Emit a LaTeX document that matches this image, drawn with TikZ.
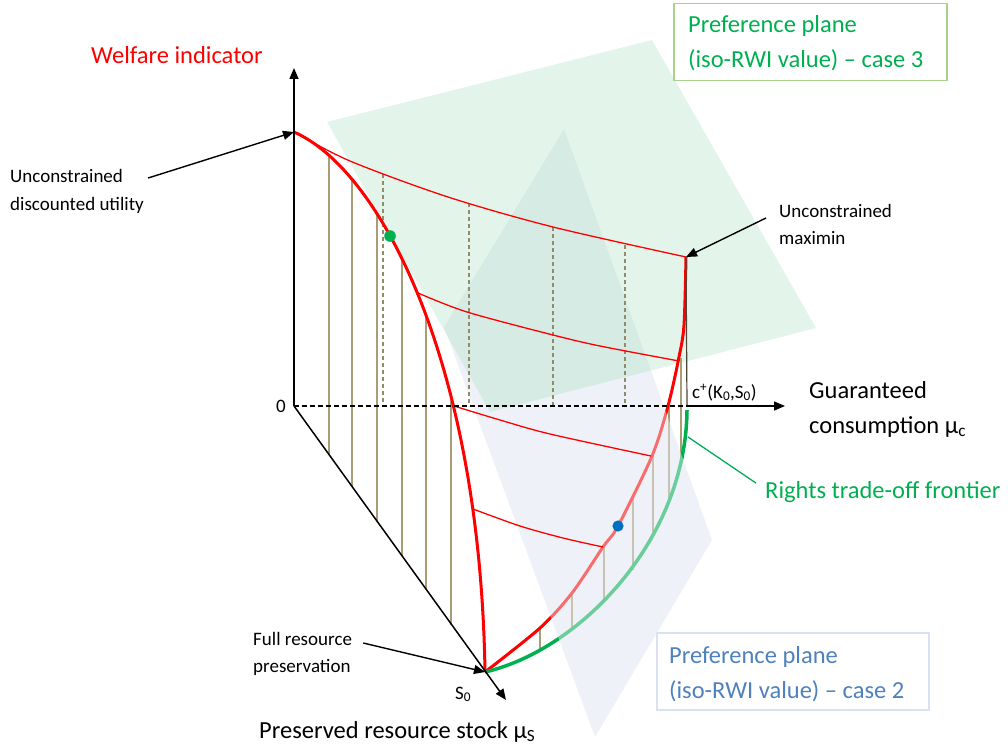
\documentclass[tikz,border=0pt]{standalone}
\usepackage{fontspec}
\setmainfont{Carlito}
\usetikzlibrary{arrows.meta}
\definecolor{wred}{HTML}{FF0000}
\definecolor{wgreen}{HTML}{00B050}
\definecolor{oliveA}{HTML}{A89E76}
\definecolor{oliveB}{HTML}{8E8C6A}
\definecolor{planeblue}{HTML}{EEF2F8}
\definecolor{planegreen}{HTML}{8FD7AB}
\definecolor{boxgreen}{HTML}{A9D18E}
\definecolor{boxblue}{HTML}{D9E2F1}
\definecolor{txtblue}{HTML}{4F81BD}
\definecolor{dotblue}{HTML}{0070C0}
\definecolor{darkline}{HTML}{4A4535}
\begin{document}
\begin{tikzpicture}[x=1pt,y=-1pt,
  big/.style={font=\fontsize{24.5}{29}\selectfont, inner sep=0pt, anchor=base west},
  small/.style={font=\fontsize{19}{23}\selectfont, inner sep=0pt, anchor=base west},
  tipline/.style={-{Triangle[length=11pt,width=9pt]}, line width=1.4pt, black},
  hatch/.style={oliveA, line width=1.3pt},
  dashhatch/.style={oliveB, line width=1.2pt, dash pattern=on 4pt off 3pt},
  thickred/.style={wred, line width=3pt},
  thinred/.style={wred, line width=1.3pt},
  frontier/.style={wgreen, line width=3.5pt},
  axis/.style={black, line width=1.5pt}]
\useasboundingbox (0,0) rectangle (1008,749);

% key points
\coordinate (O) at (294,406);
\coordinate (A) at (294,132);
\coordinate (M) at (686,257);
\coordinate (P) at (485,672);
\coordinate (C) at (687,406);
\coordinate (F) at (687,410);
\coordinate (Ytip) at (294,68);
\coordinate (Xtip) at (785,406);
\coordinate (Stip) at (506,700);

% preference planes
\fill[planeblue] (564,129) -- (712,540) -- (595,737) -- (444,327) -- cycle;
\fill[planegreen, opacity=0.25] (327,122) -- (652,40) -- (816,328) -- (490,412) -- cycle;

% right-side verticals (frontier up to surface)
\foreach \x/\a/\b in {540/628/649, 572/593/630, 604/547/603, 633/496/570, 653/455/537, 669/404/503, 681/358/463}
  \draw[hatch] (\x,\a) -- (\x,\b);

% right red curve and rights trade-off frontier
\draw[thickred] plot[smooth] coordinates {(686,257) (684,325) (679,357) (668,406) (652,456) (618,526) (603,547) (572,593) (540,628) (485,672)};
\draw[frontier] (F) .. controls (686,540) and (580,650) .. (P);

% case-2 plane in front of these curves
\begin{scope}
  \clip (564,129) -- (712,540) -- (595,737) -- (444,327) -- cycle;
  \clip (400,435.2) -- (820,327) -- (820,749) -- (400,749) -- cycle;
  \fill[planeblue, opacity=0.45] (400,300) rectangle (820,749);
\end{scope}

% left verticals (resource axis up to left curve)
\foreach \x/\a/\b in {329/157/455, 352/179/487, 377/215/522, 402/259/556, 426/317/590, 451/396/625}
  \draw[hatch] (\x,\a) -- (\x,\b);

% dashed verticals (consumption axis up to top curve)
\foreach \x/\a in {383/174, 469/203, 553/227, 625/245}
  \draw[dashhatch] (\x,\a) -- (\x,406);

% dark line at c+
\draw[darkline, line width=1.2pt] (M) -- (C);

% thin red iso-lines
\draw[thinred] plot[smooth] coordinates {(294,132) (350,161) (448,197) (553,227) (686,257)};
\draw[thinred] plot[smooth] coordinates {(418,293) (467,312) (553,335) (600,346) (679,361)};
\draw[thinred] plot[smooth] coordinates {(454,406) (500,420) (550,434) (651,456)};
\draw[thinred] plot[smooth] coordinates {(473,509) (520,526) (563,538) (603,547)};

% left thick red curve
\draw[thickred] (A) .. controls (380,170) and (480,360) .. (P);

% axes
\draw[axis, -{Triangle[length=11pt,width=9pt]}] (O) -- (Ytip);
\draw[axis, dash pattern=on 5pt off 3pt, line width=1.2pt] (O) -- (C);
\draw[axis, -{Triangle[length=11pt,width=9pt]}] (C) -- (Xtip);
\draw[axis, -{Triangle[length=11pt,width=9pt]}] (O) -- (Stip);

% dots
\fill[wgreen] (390,236) circle (5.8pt);
\fill[dotblue] (618,526) circle (5.6pt);

% labels
\node[big, text=wred] (wi) at (91,64) {Welfare indicator};
\node[small] (ucd1) at (10,182) {Unconstrained};
\node[small] (ucd2) at (10,210) {discounted utility};
\node[small] (um1) at (779,217) {Unconstrained};
\node[small] (um2) at (779,244) {maximin};
\node[small] (cplus) at (692,398) {c\textsuperscript{+}(K\textsubscript{0},S\textsubscript{0})};
\node[big] (gc1) at (809,398) {Guaranteed};
\node[big] (gc2) at (809,433) {consumption μ\textsubscript{c}};
\node[small] (zero) at (276,412) {0};
\node[big, text=wgreen] (rtf) at (765,498) {Rights trade-off frontier};
\node[small] (frp1) at (253,645) {Full resource};
\node[small] (frp2) at (253,672) {preservation};
\node[small] (s0) at (455,699) {S\textsubscript{0}};
\node[big] (prs) at (259,738) {Preserved resource stock μ\textsubscript{S}};

% label arrows
\draw[tipline] ([xshift=25pt,yshift=4pt]ucd1.base east) -- (A);
\draw[tipline] ([xshift=-13pt,yshift=-1pt]um1.base west) -- (M);
\draw[tipline] ([xshift=11pt,yshift=2pt]frp1.base east) -- (P);
\draw[wgreen, line width=1.3pt] (688,437) -- ([xshift=-9pt,yshift=8.5pt]rtf.west);

% preference plane boxes
\node[draw=boxgreen, fill=white, line width=1.5pt, minimum width=273pt, minimum height=77pt, anchor=north west, inner sep=0pt] (box3) at (673,3) {};
\node[big, text=wgreen] (p3a) at (688,33) {Preference plane};
\node[big, text=wgreen] (p3b) at (688,68) {(iso-RWI value) – case 3};
\node[draw=boxblue, fill=white, line width=1.5pt, minimum width=272pt, minimum height=77pt, anchor=north west, inner sep=0pt] (box2) at (656,632) {};
\node[big, text=txtblue] (p2a) at (669,663) {Preference plane};
\node[big, text=txtblue] (p2b) at (669,698) {(iso-RWI value) – case 2};
\end{tikzpicture}
\end{document}
